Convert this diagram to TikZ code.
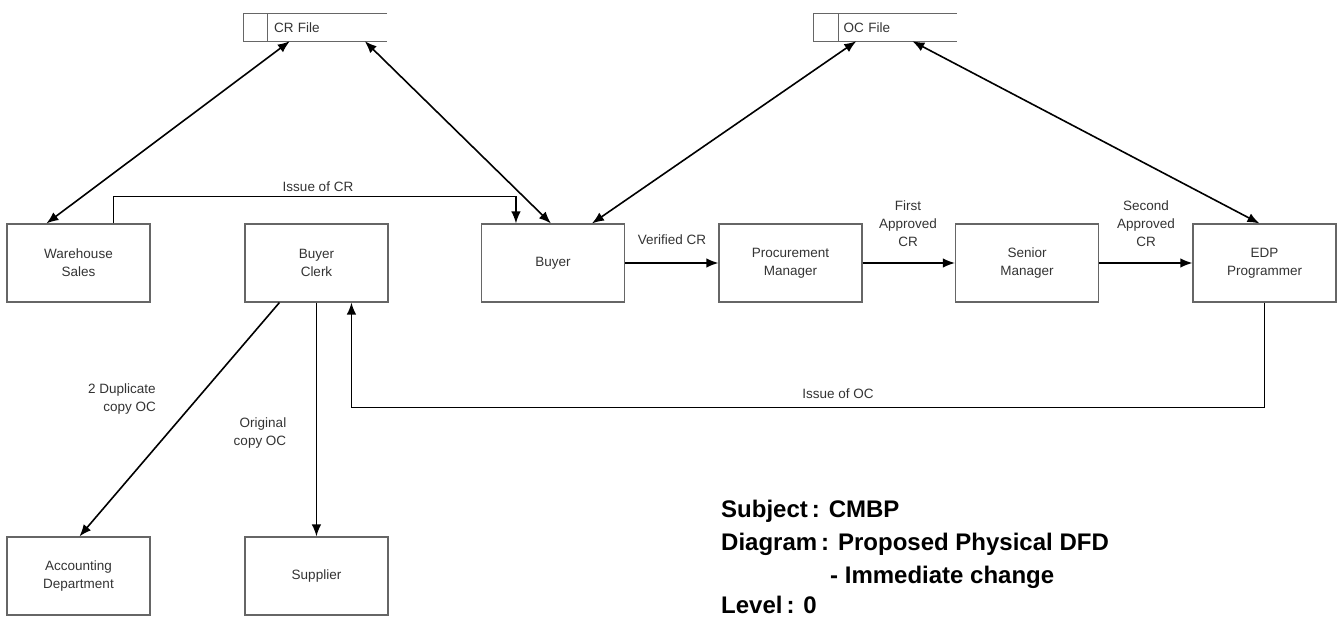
\documentclass[tikz,border=0pt]{standalone}
\usepackage{fontspec}
\setmainfont{Liberation Sans}
\usetikzlibrary{arrows.meta}

\begin{document}
\begin{tikzpicture}[x=1pt, y=-1pt,
		>={Latex[length=12pt,width=9.5pt]},
		proc/.style={draw=black!60, line width=1.1pt, minimum width=143pt, minimum height=78pt, align=center, font=\fontsize{13.5}{18}\selectfont, text=black!80},
		store/.style={minimum width=143pt, minimum height=27pt, inner xsep=0pt, text width=143pt, align=left, font=\fontsize{13.5}{16}\selectfont, text=black!80},
		storeline/.style={draw=black!60, line width=1.1pt},
		flow/.style={line width=1.6pt},
		lbl/.style={font=\fontsize{13.5}{18}\selectfont, text=black!80, align=center},
		subj/.style={font=\bfseries\fontsize{24}{28}\selectfont, anchor=base west, inner sep=0pt}]
		\useasboundingbox (0,0) rectangle (1340,617);
		% data stores
		\node[store] at (315.5,27.5) (crfile) {\hspace*{30pt}CR File};
		\node[store] at (885,27.5) (ocfile) {\hspace*{30pt}OC File};
		\draw[storeline] (crfile.north east) -| (crfile.south west) -- (crfile.south east);
		\draw[storeline] ([xshift=24pt]crfile.north west) -- ([xshift=24pt]crfile.south west);
		\draw[storeline] (ocfile.north east) -| (ocfile.south west) -- (ocfile.south east);
		\draw[storeline] ([xshift=25pt]ocfile.north west) -- ([xshift=25pt]ocfile.south west);
		% processes
		\node[proc] at (78.5,263) (wsales) {Warehouse\\Sales};
		\node[proc] at (316.5,263) (bclerk) {Buyer\\Clerk};
		\node[proc] at (553,263) (buyer) {Buyer};
		\node[proc] at (790.5,263) (procure) {Procurement\\Manager};
		\node[proc] at (1027,263) (senior) {Senior\\Manager};
		\node[proc] at (1264.5,263) (edp) {EDP\\Programmer};
		\node[proc] at (78.5,576) (acct) {Accounting\\Department};
		\node[proc] at (316.5,576) (supplier) {Supplier};
		% flows
		\draw[flow, <->] ([xshift=46pt]crfile.south west) -- ([xshift=40pt]wsales.north west);
		\draw[flow, <->] ([xshift=121pt]crfile.south west) -- ([xshift=70pt]buyer.north west);
		\draw[flow, <->] ([xshift=43pt]ocfile.south west) -- ([xshift=111pt]buyer.north west);
		\draw[flow, <->] ([xshift=99pt]ocfile.south west) -- ([xshift=67pt]edp.north west);
		\draw[flow, ->] ([xshift=107pt]wsales.north west) -- ++(0,-27) -| ([xshift=35pt]buyer.north west);
		\draw[flow, ->] (buyer) -- (procure);
		\draw[flow, ->] (procure) -- (senior);
		\draw[flow, ->] (senior) -- (edp);
		\draw[flow, ->] (edp.south) -- ++(0,105) -| ([xshift=107pt]bclerk.south west);
		\draw[flow, ->] ([xshift=35pt]bclerk.south west) -- ([xshift=73pt]acct.north west);
		\draw[flow, ->] ([xshift=72pt]bclerk.south west) -- ([xshift=72pt]supplier.north west);
		% flow labels
		\node[lbl] at (318,187) (issuecr) {Issue of CR};
		\node[lbl] at (672,240) (verified) {Verified CR};
		\node[lbl] at (908,224) (first) {First\\Approved\\CR};
		\node[lbl] at (1146,224) (second) {Second\\Approved\\CR};
		\node[lbl] at (838,394) (issueoc) {Issue of OC};
		\node[lbl, align=right] at (122,399) (dupl) {2 Duplicate\\copy OC};
		\node[lbl, align=right] at (260,433) (orig) {Original\\copy OC};
		% subject block
		\node[subj] at (721,517) (subject) {Subject\,: CMBP};
		\node[subj] at (721,550) (diagram) {Diagram\,: Proposed Physical DFD};
		\node[subj] at (830,583) (change) {- Immediate change};
		\node[subj] at (721,613) (level) {Level\,: 0};
\end{tikzpicture}
\end{document}
